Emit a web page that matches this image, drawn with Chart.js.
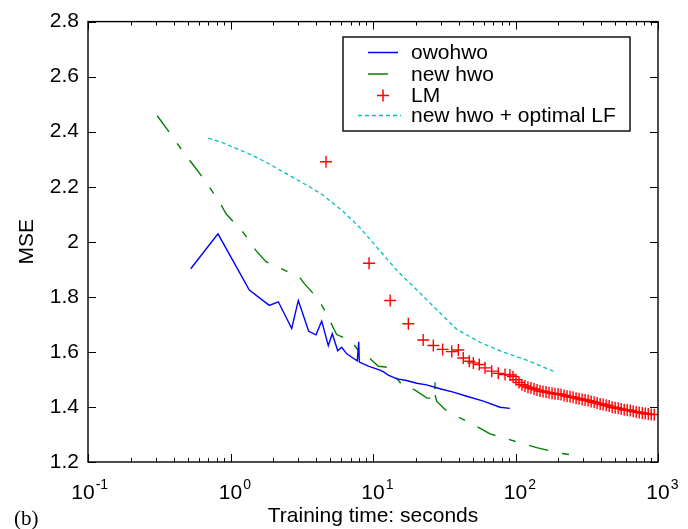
<!DOCTYPE html>
<html><head><meta charset="utf-8">
<script src="https://cdn.jsdelivr.net/npm/chart.js@4.4.1/dist/chart.umd.min.js"></script>
<style>html,body{margin:0;padding:0;background:#fff;}#wrap{width:688px;height:529px;}</style>
</head><body><div id="wrap"><canvas id="c" width="688" height="529"></canvas></div>
<script>
// ---- data ----
const owohwoX = [0.526,0.817,1.355,1.872,2.165,2.689,2.991,3.538,3.981,4.365,4.857,5.18,5.653,6.03,6.54,7.36,7.76,7.94,8.02,9.27,11.2,11.8,12.8,14.7,17.2,20.3,23.8,29.5,36.6,45.5,59.5,77.8,91.4];
const owohwoY = [1.902,2.029,1.825,1.769,1.782,1.685,1.787,1.675,1.662,1.712,1.623,1.666,1.604,1.617,1.593,1.575,1.568,1.637,1.563,1.548,1.534,1.528,1.516,1.502,1.496,1.486,1.480,1.466,1.454,1.439,1.421,1.399,1.395];

const newHwoX = [0.306,0.376,0.4665,0.548,0.681,0.834,0.934,1.223,1.516,1.775,2.453,3.075,3.296,3.917,4.246,4.73,5.27,5.56,7.01,7.89,9.03,10.9,12.3,14.7,16.3,19.5,23.8,27.1,27.3,27.4,28.0,32.0,36.2,48.0,59.5,66.2,82.1,113.5,141,161,199.6,254.7];
const newHwoY = [2.458,2.395,2.326,2.279,2.214,2.145,2.101,2.035,1.967,1.928,1.894,1.869,1.848,1.805,1.781,1.738,1.687,1.663,1.641,1.605,1.587,1.548,1.545,1.504,1.474,1.463,1.433,1.430,1.492,1.439,1.421,1.391,1.373,1.343,1.316,1.302,1.288,1.266,1.252,1.245,1.233,1.225];

const lmX = [4.68,9.38,13.2,17.7,22.5,26.5,30.8,35.7,39.7,43.0,47.4,50.6,55.7,61.1,68.1,75.7,84.4,91.4,
  96.0,100.8,105.8,111.0,116.6,122.3,128.5,134.9,141.6,148.6,156.0,163.8,171.9,180.5,189.5,198.9,208.8,219.2,230.1,241.6,253.6,266.2,279.5,293.4,308.0,323.4,339.5,356.4,374.1,392.7,412.3,432.8,454.3,476.9,500.7,525.6,551.7,579.2,608.0,638.3,670.0,703.4,738.4,775.1,813.7,854.2,896.7,941.3];
const lmY = [2.291,1.922,1.787,1.702,1.643,1.623,1.609,1.601,1.607,1.578,1.566,1.560,1.554,1.542,1.530,1.522,1.518,1.516,
  1.510,1.499,1.489,1.481,1.476,1.472,1.469,1.465,1.462,1.458,1.456,1.454,1.452,1.450,1.448,1.447,1.445,1.442,1.439,1.437,1.435,1.432,1.430,1.427,1.425,1.423,1.420,1.417,1.414,1.411,1.409,1.406,1.403,1.399,1.397,1.395,1.393,1.390,1.389,1.387,1.384,1.382,1.380,1.378,1.376,1.374,1.373,1.372];

const optLfX = [0.698,0.890,1.370,1.795,2.616,3.614,4.48,6.19,8.11,11.2,14.7,20.3,29.5,38.6,56.4,82.1,119.8,184];
const optLfY = [2.377,2.359,2.318,2.288,2.240,2.199,2.169,2.110,2.051,1.967,1.896,1.825,1.742,1.682,1.635,1.599,1.570,1.530];

const seriesNames = ['owohwo','new hwo','LM','new hwo + optimal LF'];
const yTickValues = [1.2,1.4,1.6,1.8,2.0,2.2,2.4,2.6,2.8];
const yTickLabels = ['1.2','1.4','1.6','1.8','2','2.2','2.4','2.6','2.8'];
const xDecades = [0.1,1,10,100,1000];
const xExponents = ['-1','0','1','2','3'];
const xTitle = 'Training time: seconds';
const yTitle = 'MSE';
const panelLabel = '(b)';

// ---- styles ----
const SANS = "'Liberation Sans', Arial, Helvetica, sans-serif";
const SERIF = "'Liberation Serif', 'Times New Roman', serif";
const BLUE = '#0000ff', GREEN = '#008000', RED = '#ff0000', CYAN = '#00bfbf';

function pts(xs, ys){ return xs.map((x,i)=>({x:x, y:ys[i]})); }

const frame = {
  id:'frame',
  afterDatasetsDraw(chart){
    const {ctx, chartArea:a, scales:{x, y}} = chart;
    ctx.save();
    ctx.strokeStyle = '#000';
    ctx.lineWidth = 1.4;
    ctx.strokeRect(a.left, a.top, a.right-a.left, a.bottom-a.top);
    ctx.lineWidth = 1;
    ctx.beginPath();
    yTickValues.forEach(v=>{
      const py = Math.round(y.getPixelForValue(v))+0.5;
      ctx.moveTo(a.left, py); ctx.lineTo(a.left+8, py);
      ctx.moveTo(a.right, py); ctx.lineTo(a.right-8, py);
    });
    for (let d=0; d<xDecades.length; d++){
      const base = xDecades[d];
      const ms = d===xDecades.length-1 ? [1] : [1,2,3,4,5,6,7,8,9];
      ms.forEach(m=>{
        const px = Math.round(x.getPixelForValue(base*m))+0.5;
        const len = m===1 ? 8 : 4;
        ctx.moveTo(px, a.bottom); ctx.lineTo(px, a.bottom-len);
        ctx.moveTo(px, a.top); ctx.lineTo(px, a.top+len);
      });
    }
    ctx.stroke();
    // x tick labels 10^n
    ctx.fillStyle = '#000';
    ctx.textBaseline = 'alphabetic';
    xDecades.forEach((v,i)=>{
      const px = x.getPixelForValue(v);
      ctx.font = '21px ' + SANS;
      const w = ctx.measureText('10').width;
      const shift = xExponents[i]==='-1' ? -5 : 0;
      const left = px - w/2 + shift;
      ctx.textAlign = 'left';
      ctx.fillText('10', left, 499);
      ctx.font = '14px ' + SANS;
      ctx.fillText(xExponents[i], left + w + 1, 489);
    });
    // panel label
    ctx.font = '21px ' + SERIF;
    ctx.textAlign = 'left';
    ctx.fillText(panelLabel, 14, 525);
    // legend
    const L = {l:343, t:37, r:630, b:131};
    ctx.fillStyle = '#fff';
    ctx.fillRect(L.l, L.t, L.r-L.l, L.b-L.t);
    ctx.lineWidth = 1.4; ctx.strokeStyle = '#000';
    ctx.strokeRect(L.l, L.t, L.r-L.l, L.b-L.t);
    const rows = [52.5, 74, 95.5, 115.5];
    const ds = chart.data.datasets;
    rows.forEach((ry,i)=>{
      const d = ds[i];
      ctx.save();
      ctx.strokeStyle = d.borderColor;
      ctx.lineWidth = 1.5;
      if (i===2){
        ctx.beginPath();
        ctx.moveTo(383-6, ry); ctx.lineTo(383+6, ry);
        ctx.moveTo(383, ry-6); ctx.lineTo(383, ry+6);
        ctx.stroke();
      } else {
        ctx.setLineDash(i===3 ? [4,3] : (i===1 ? [20,14,7,14] : []));
        ctx.beginPath();
        ctx.moveTo(i===3 ? 358 : 368, ry); ctx.lineTo(i===3 ? 401 : 398, ry);
        ctx.stroke();
      }
      ctx.restore();
      ctx.fillStyle = '#000';
      ctx.font = '21px ' + SANS;
      ctx.textAlign = 'left';
      ctx.textBaseline = 'middle';
      ctx.fillText(seriesNames[i], 411, ry+1);
    });
    ctx.restore();
  }
};

new Chart(document.getElementById('c'), {
  type:'line',
  data:{
    datasets:[
      {label:seriesNames[0], data:pts(owohwoX, owohwoY), borderColor:BLUE, borderWidth:1.4, pointRadius:0, fill:false, tension:0},
      {label:seriesNames[1], data:pts(newHwoX, newHwoY), borderColor:GREEN, borderWidth:1.4, borderDash:[20,14,7,14], pointRadius:0, fill:false, tension:0},
      {label:seriesNames[2], data:pts(lmX, lmY), borderColor:RED, backgroundColor:RED, showLine:false, pointStyle:'cross', pointRadius:6, pointBorderWidth:1.4, pointHoverRadius:6},
      {label:seriesNames[3], data:pts(optLfX, optLfY), borderColor:CYAN, borderWidth:1.3, borderDash:[4,3], pointRadius:0, fill:false, tension:0}
    ]
  },
  options:{
    responsive:false, animation:false, devicePixelRatio:1,
    layout:{padding:{top:13, right:30, left:0, bottom:0}},
    plugins:{legend:{display:false}, tooltip:{enabled:false}, title:{display:false}},
    scales:{
      x:{type:'logarithmic', min:0.1, max:1000, position:'bottom',
        grid:{display:false, drawTicks:false}, border:{display:false},
        ticks:{display:false},
        title:{display:true, text:xTitle, color:'#000', font:{family:SANS, size:21}, padding:{top:0,bottom:0}},
        afterFit(s){ s.height = 67; }
      },
      y:{type:'linear', min:1.2, max:2.8, position:'left',
        grid:{display:false, drawTicks:false}, border:{display:false},
        ticks:{stepSize:0.2, padding:9, color:'#000', font:{family:SANS, size:21},
          callback:(v)=>{ const i = yTickValues.findIndex(t=>Math.abs(t-v)<1e-6); return i>=0 ? yTickLabels[i] : ''; }},
        title:{display:true, text:yTitle, color:'#000', font:{family:SANS, size:21}, padding:{top:15,bottom:0}},
        afterFit(s){ s.width = 88; }
      }
    }
  },
  plugins:[frame]
});
</script></body></html>
